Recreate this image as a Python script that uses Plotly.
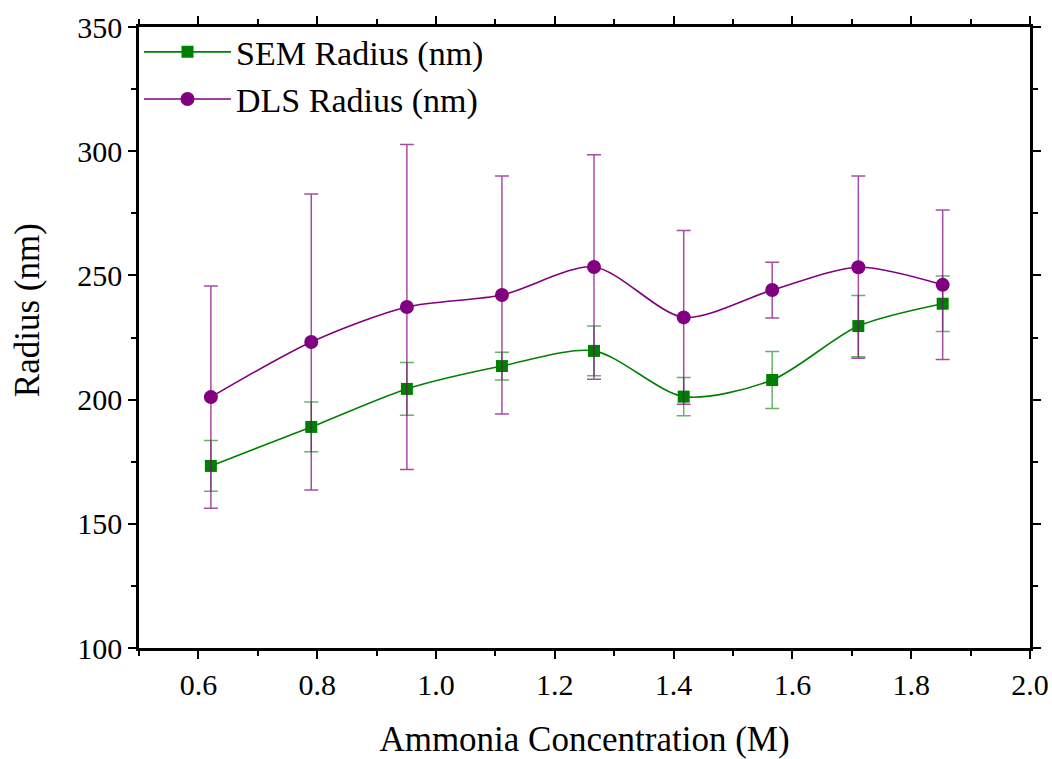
import plotly.graph_objects as go

conc = [0.621, 0.790, 0.951, 1.111, 1.266, 1.417, 1.566, 1.711, 1.853]
sem_radius = [173.3, 189.0, 204.3, 213.5, 219.6, 201.2, 207.9, 229.6, 238.6]
sem_err = [10.2, 10.0, 10.6, 5.6, 10.0, 7.7, 11.5, 12.3, 11.2]
dls_radius = [201.0, 223.2, 237.3, 242.1, 253.4, 233.1, 244.1, 253.3, 246.2]
dls_err = [44.7, 59.6, 65.4, 47.9, 45.2, 35.0, 11.2, 36.7, 30.1]

FONT = "Liberation Serif, Times New Roman, DejaVu Serif, serif"

fig = go.Figure()
fig.add_trace(go.Scatter(
    x=conc, y=sem_radius, name="SEM Radius (nm)", mode="lines+markers",
    line=dict(color="#008000", width=1.6, shape="spline", smoothing=0.8),
    marker=dict(symbol="square", size=12, color="#008000"),
    error_y=dict(type="data", array=sem_err, visible=True,
                 color="rgba(0,128,0,0.6)", thickness=1.5, width=7),
))
fig.add_trace(go.Scatter(
    x=conc, y=dls_radius, name="DLS Radius (nm)", mode="lines+markers",
    line=dict(color="#800080", width=1.6, shape="spline", smoothing=0.8),
    marker=dict(symbol="circle", size=14, color="#800080"),
    error_y=dict(type="data", array=dls_err, visible=True,
                 color="rgba(128,0,128,0.7)", thickness=1.5, width=7),
))

axis_common = dict(
    showline=True, linecolor="black", linewidth=2.5, mirror="allticks",
    ticks="outside", ticklen=8, tickwidth=1.5, tickcolor="black",
    showgrid=False, zeroline=False, automargin=False,
    tickfont=dict(family=FONT, size=30, color="black"),
)

fig.update_xaxes(
    range=[0.5, 2.0], tick0=0.6, dtick=0.2, tickformat=".1f",
    minor=dict(ticks="outside", ticklen=5, tickwidth=1.5, dtick=0.1, tick0=0.5, tickcolor="black"),
    title=dict(text="Ammonia Concentration (M)", font=dict(family=FONT, size=35, color="black"), standoff=32),
    **axis_common,
)
fig.update_yaxes(
    range=[100, 350], dtick=50,
    minor=dict(ticks="outside", ticklen=5, tickwidth=1.5, dtick=25, tickcolor="black"),
    **axis_common,
)

fig.add_annotation(
    text="Radius (nm)", textangle=-90, showarrow=False,
    xref="paper", yref="paper", x=-0.1257, y=0.544,
    xanchor="center", yanchor="middle",
    font=dict(family=FONT, size=35, color="black"),
)

fig.update_layout(
    width=1052, height=759,
    margin=dict(l=139, r=22, t=27, b=111),
    plot_bgcolor="white", paper_bgcolor="white",
    font=dict(family=FONT, color="black"),
    legend=dict(x=0.0, y=1.006, xanchor="left", yanchor="top",
                font=dict(family=FONT, size=34, color="black"),
                bgcolor="rgba(0,0,0,0)", itemwidth=87, tracegroupgap=0),
    showlegend=True,
)

fig.write_html("out.html")
